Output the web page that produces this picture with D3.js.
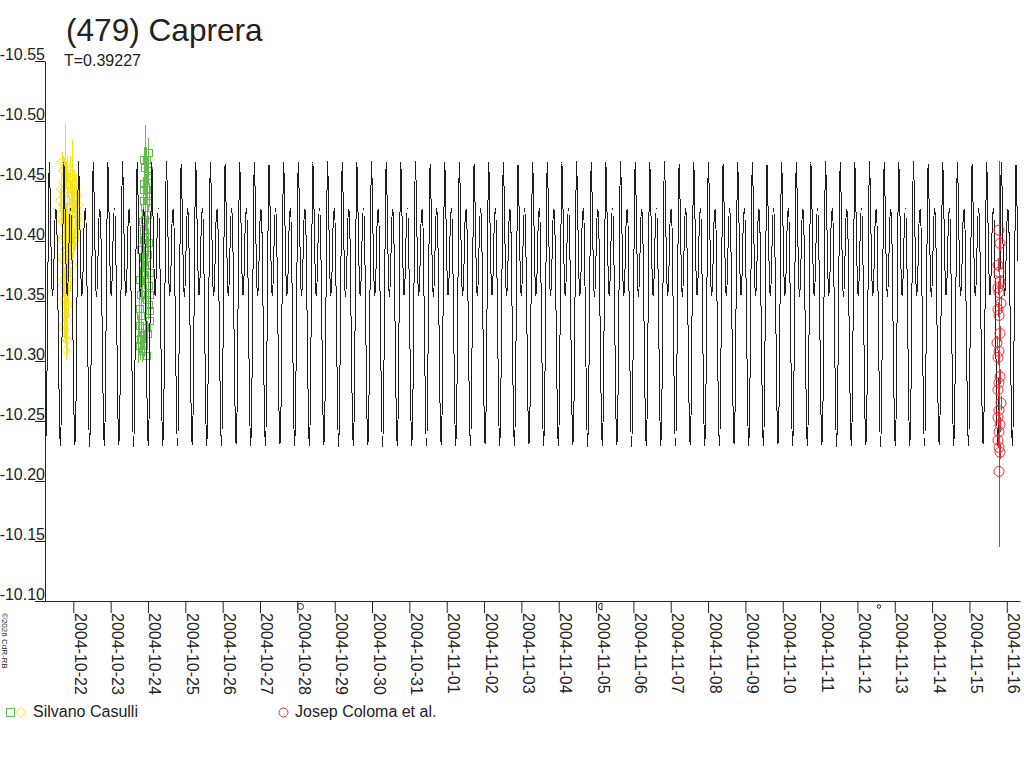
<!DOCTYPE html>
<html>
<head>
<meta charset="utf-8">
<script src="https://cdn.jsdelivr.net/npm/d3@7"></script>
<style>
body { margin: 0; background: #fff; }
svg text { font-family: "Liberation Sans", Arial, sans-serif; fill: #222; }
</style>
</head>
<body>
<svg id="board" width="1024" height="768"></svg>
<script>
// times are JD - 2453300 (JD 2453300.0 = 2004-10-21 12:00 UT)
let titleText = '(479) Caprera'
let periodText = 'T=0.39227'
let period = 0.39227
let epochJD = -0.144          // a primary maximum of the model
let xDomainJD = [-0.258, 25.854]
let modelEndJD = 25.80

// one cycle of the model lightcurve
let profPhase = [0, 0.05, 0.12, 0.18, 0.23, 0.30, 0.38, 0.46, 0.53, 0.61, 0.69, 0.75, 0.82, 0.90, 0.96, 1]
let profMag = [-10.466, -10.445, -10.395, -10.362, -10.354, -10.372, -10.414, -10.427, -10.405, -10.33, -10.255, -10.229, -10.258, -10.36, -10.44, -10.466]

let yTicks = [-10.55, -10.50, -10.45, -10.40, -10.35, -10.30, -10.25, -10.20, -10.15, -10.10]
let yTickLabels = ['-10.55', '-10.50', '-10.45', '-10.40', '-10.35', '-10.30', '-10.25', '-10.20', '-10.15', '-10.10']

// Silvano Casulli, first night (yellow diamonds)
let casYelT = [0.197, 0.251, 0.305, 0.224, 0.278, 0.358, 0.412, 0.465, 0.519, 0.572, 0.626, 0.438, 0.331, 0.224, 0.385, 0.492,
               0.546, 0.599, 0.305, 0.197, 0.358, 0.465, 0.251, 0.412, 0.519, 0.305, 0.197, 0.358, 0.465, 0.278, 0.224, 0.331,
               0.412, 0.251, 0.358, 0.305, 0.278, 0.331, 0.305,
               0.144, 0.171, 0.171, 0.653, 0.626, 0.572, 0.519, 0.465, 0.412, 0.358, 0.305, 0.251, 0.197, 0.224, 0.278,
               0.331, 0.385, 0.438, 0.492, 0.546, 0.251, 0.305, 0.358, 0.278, 0.331, 0.251, 0.305, 0.224, 0.331, 0.412]
let casYelMag = [-10.466, -10.459, -10.455, -10.449, -10.443, -10.447, -10.451, -10.452, -10.448, -10.444, -10.438, -10.438, -10.434, -10.430, -10.428, -10.430,
                 -10.424, -10.418, -10.422, -10.416, -10.413, -10.409, -10.403, -10.399, -10.401, -10.393, -10.386, -10.383, -10.380, -10.374, -10.363, -10.359,
                 -10.368, -10.351, -10.347, -10.338, -10.326, -10.317, -10.309,
                 -10.434, -10.443, -10.422, -10.430, -10.409, -10.422, -10.434, -10.422, -10.413, -10.399, -10.409, -10.416, -10.401, -10.384, -10.393,
                 -10.376, -10.389, -10.393, -10.397, -10.405, -10.368, -10.359, -10.363, -10.347, -10.334, -10.330, -10.319, -10.459, -10.461, -10.459]
let casYelErr = [0.008, 0.010, 0.012, 0.010, 0.055, 0.010, 0.012, 0.032, 0.010, 0.012, 0.010, 0.012, 0.010, 0.012, 0.010, 0.012,
                 0.010, 0.012, 0.010, 0.012, 0.010, 0.012, 0.010, 0.012, 0.010, 0.012, 0.010, 0.012, 0.010, 0.012, 0.010, 0.012,
                 0.010, 0.012, 0.010, 0.012, 0.010, 0.012, 0.008,
                 0.010, 0.012, 0.010, 0.012, 0.010, 0.012, 0.010, 0.012, 0.010, 0.012, 0.010, 0.012, 0.010, 0.012, 0.010,
                 0.012, 0.010, 0.012, 0.010, 0.012, 0.010, 0.012, 0.010, 0.012, 0.010, 0.012, 0.010, 0.012, 0.010, 0.012]

// Silvano Casulli, second night (green squares)
let casGrnT = [2.501, 2.447, 2.420, 2.474, 2.393, 2.447, 2.527, 2.367, 2.420, 2.474, 2.340, 2.393, 2.447, 2.501, 2.313, 2.367,
               2.420, 2.554, 2.286, 2.340, 2.554, 2.447, 2.260, 2.313, 2.554, 2.420, 2.474, 2.233, 2.286, 2.340, 2.447,
               2.393, 2.501, 2.367, 2.474, 2.420, 2.367, 2.474, 2.393, 2.313, 2.501, 2.367, 2.554, 2.260, 2.313, 2.393,
               2.501, 2.447, 2.340]
let casGrnMag = [-10.474, -10.468, -10.461, -10.455, -10.448, -10.443, -10.438, -10.434, -10.428, -10.422, -10.416, -10.409, -10.404, -10.399, -10.393, -10.386,
                 -10.380, -10.374, -10.368, -10.361, -10.355, -10.351, -10.344, -10.338, -10.334, -10.328, -10.323, -10.318, -10.313, -10.309, -10.305,
                 -10.468, -10.459, -10.443, -10.434, -10.418, -10.401, -10.389, -10.372, -10.355, -10.347, -10.321, -10.342, -10.330, -10.319, -10.313,
                 -10.363, -10.380, -10.380]
let casGrnErr = [0.012, 0.010, 0.036, 0.012, 0.010, 0.012, 0.010, 0.012, 0.010, 0.012, 0.010, 0.012, 0.010, 0.012, 0.010, 0.012,
                 0.010, 0.012, 0.010, 0.012, 0.010, 0.012, 0.016, 0.012, 0.010, 0.012, 0.010, 0.020, 0.012, 0.010, 0.012,
                 0.010, 0.012, 0.010, 0.012, 0.010, 0.012, 0.010, 0.012, 0.010, 0.012, 0.010, 0.012, 0.010, 0.012, 0.010,
                 0.012, 0.010, 0.012]

// Josep Coloma et al. (red circles)
let colT = [25.291, 25.318, 25.264, 25.291, 25.318, 25.264, 25.291, 25.345, 25.264, 25.291, 25.318, 25.238, 25.291, 25.264,
            25.318, 25.291, 25.264, 25.345, 25.291, 25.264, 25.318, 25.291, 25.264, 25.291, 25.318, 25.291]
let colMag = [-10.409, -10.398, -10.380, -10.374, -10.366, -10.361, -10.357, -10.348, -10.343, -10.338, -10.323, -10.315, -10.308, -10.303,
              -10.287, -10.282, -10.276, -10.265, -10.259, -10.253, -10.247, -10.241, -10.234, -10.228, -10.224, -10.208]
let colErr = [0.006, 0.006, 0.006, 0.006, 0.006, 0.006, 0.110, 0.006, 0.006, 0.006, 0.006, 0.006, 0.006, 0.006,
              0.006, 0.006, 0.006, 0.006, 0.006, 0.006, 0.006, 0.006, 0.006, 0.006, 0.006, 0.063]

// moon phases under the axis: full, last quarter, new
let moonT = [6.585, 14.659, 22.077]
let moonKind = ['full', 'quarter', 'new']

let height = 768
let width = 1024

let board = d3.select('#board')

let toDate = (jd) => new Date(Date.UTC(2004, 9, 21, 12) + jd * 864e5)

let xScale = d3.scaleUtc()
                .domain([toDate(xDomainJD[0]), toDate(xDomainJD[1])])
                .range([45, 1020])

let yScale = d3.scaleLinear()
                .domain([-10.55, -10.10])
                .range([61, 601])

let makeSeries = (ts, ms, es) => ts.map((t, i) => ({ t: t, m: ms[i], e: es[i] }))

let yellowData = makeSeries(casYelT, casYelMag, casYelErr)
let greenData = makeSeries(casGrnT, casGrnMag, casGrnErr)
let redData = makeSeries(colT, colMag, colErr)

let colYellow = '#f5e11a'
let colGreen = '#62bb4c'
let colRed = '#ea2a2e'

// model: the read cycle repeated with period T
let modelPts = []
let k0 = Math.floor((xDomainJD[0] - epochJD) / period) - 1
let k1 = Math.ceil((modelEndJD - epochJD) / period) + 1
for (let k = k0; k <= k1; k++) {
    profPhase.forEach((p, i) => {
        if (i === profPhase.length - 1) return
        modelPts.push({ t: epochJD + (k + p) * period, m: profMag[i] })
    })
}

board.append('defs').append('clipPath')
    .attr('id', 'plotclip')
    .append('rect')
    .attr('x', xScale(toDate(xDomainJD[0])))
    .attr('y', 0)
    .attr('width', xScale(toDate(modelEndJD)) - xScale(toDate(xDomainJD[0])))
    .attr('height', height)

let drawErrors = (data, colour) => {
    board.append('g')
        .attr('shape-rendering', 'crispEdges')
        .selectAll('line')
        .data(data)
        .enter()
        .append('line')
        .attr('x1', (d) => Math.round(xScale(toDate(d.t))) + 0.5)
        .attr('x2', (d) => Math.round(xScale(toDate(d.t))) + 0.5)
        .attr('y1', (d) => yScale(d.m - d.e))
        .attr('y2', (d) => yScale(d.m + d.e))
        .style('stroke', colour)
        .style('stroke-width', 1)
}

let diamond = (s) => 'M0,' + (-s) + 'L' + s + ',0L0,' + s + 'L' + (-s) + ',0Z'

// yellow
drawErrors(yellowData, colYellow)
board.append('g')
    .selectAll('path')
    .data(yellowData)
    .enter()
    .append('path')
    .attr('d', diamond(4.5))
    .attr('transform', (d) => 'translate(' + xScale(toDate(d.t)) + ',' + yScale(d.m) + ')')
    .attr('fill', 'none')
    .attr('stroke', colYellow)

// green
drawErrors(greenData, colGreen)
board.append('g')
    .attr('shape-rendering', 'crispEdges')
    .selectAll('rect')
    .data(greenData)
    .enter()
    .append('rect')
    .attr('x', (d) => Math.round(xScale(toDate(d.t)) - 3.5) + 0.5)
    .attr('y', (d) => Math.round(yScale(d.m) - 3.5) + 0.5)
    .attr('width', 7)
    .attr('height', 7)
    .attr('fill', 'none')
    .attr('stroke', colGreen)

// model curve
let line = d3.line()
    .x((d) => xScale(toDate(d.t)))
    .y((d) => yScale(d.m))
    .curve(d3.curveMonotoneX)

board.append('path')
    .datum(modelPts)
    .attr('clip-path', 'url(#plotclip)')
    .attr('d', line)
    .attr('fill', 'none')
    .attr('stroke', '#1e1e1e')
    .attr('stroke-width', 1)
    .attr('shape-rendering', 'crispEdges')

// red
drawErrors(redData, colRed)
board.append('g')
    .selectAll('circle')
    .data(redData)
    .enter()
    .append('circle')
    .attr('cx', (d) => xScale(toDate(d.t)))
    .attr('cy', (d) => yScale(d.m))
    .attr('r', 5)
    .attr('fill', 'none')
    .attr('stroke', colRed)

// axes
let yAxis = d3.axisLeft(yScale)
    .tickValues(yTicks)
    .tickSize(10)
    .tickSizeOuter(0)
    .tickFormat((d, i) => yTickLabels[i])
let yG = board.append('g')
    .attr('transform', 'translate(45,0)')
    .call(yAxis)
yG.selectAll('text')
    .attr('x', 0)
    .attr('dy', null)
    .attr('y', -2)
    .style('font-size', '16px')
    .style('text-anchor', 'end')

let days = d3.utcDay.range(toDate(0.5), toDate(25.6))
let xAxis = d3.axisBottom(xScale)
    .tickValues(days)
    .tickSize(12)
    .tickSizeOuter(0)
    .tickFormat(d3.utcFormat('%Y-%m-%d'))
let xG = board.append('g')
    .attr('transform', 'translate(0,601)')
    .call(xAxis)
xG.selectAll('text')
    .attr('x', 12)
    .attr('y', -1)
    .attr('dy', null)
    .attr('transform', 'rotate(90)')
    .style('font-size', '16px')
    .style('text-anchor', 'start')

board.selectAll('.domain, .tick line')
    .attr('stroke', '#222')
board.selectAll('.tick text')
    .attr('fill', '#222')
    .style('font-family', '"Liberation Sans", Arial, sans-serif')

// a stray tick left of the y axis at the bottom
board.append('line')
    .attr('x1', 35).attr('x2', 45)
    .attr('y1', 601.5).attr('y2', 601.5)
    .attr('stroke', '#222')

// moon symbols
let moonG = board.append('g')
moonT.forEach((t, i) => {
    let cx = xScale(toDate(t))
    let cy = 606.5
    if (moonKind[i] === 'full') {
        moonG.append('circle').attr('cx', cx).attr('cy', cy).attr('r', 3)
            .attr('fill', 'none').attr('stroke', '#222')
    } else if (moonKind[i] === 'quarter') {
        moonG.append('path')
            .attr('d', 'M' + cx + ',' + (cy - 3.5) + 'A3.5,3.5 0 0 0 ' + cx + ',' + (cy + 3.5) + 'Z')
            .attr('fill', 'none').attr('stroke', '#222')
    } else {
        moonG.append('circle').attr('cx', cx).attr('cy', cy).attr('r', 1.8)
            .attr('fill', 'none').attr('stroke', '#222')
    }
})

// title
board.append('text')
    .attr('x', 66)
    .attr('y', 41)
    .style('font-size', '31.6px')
    .text(titleText)

board.append('text')
    .attr('x', 64)
    .attr('y', 66)
    .style('font-size', '16px')
    .text(periodText)

// copyright, sideways
board.append('text')
    .attr('transform', 'translate(2,613) rotate(90)')
    .style('font-size', '8px')
    .text('\u00a92026 CdR-RB')

// legend
let legend = board.append('g')
legend.append('rect')
    .attr('x', 6.5).attr('y', 708.5).attr('width', 8).attr('height', 8)
    .attr('fill', 'none').attr('stroke', colGreen)
legend.append('path')
    .attr('d', diamond(5))
    .attr('transform', 'translate(21,712.5)')
    .attr('fill', 'none').attr('stroke', colYellow)
legend.append('text')
    .attr('x', 33).attr('y', 717)
    .style('font-size', '16px')
    .text('Silvano Casulli')
legend.append('circle')
    .attr('cx', 283.5).attr('cy', 712.5).attr('r', 4.5)
    .attr('fill', 'none').attr('stroke', colRed)
legend.append('text')
    .attr('x', 295).attr('y', 717)
    .style('font-size', '16px')
    .text('Josep Coloma et al.')
</script>
</body>
</html>
